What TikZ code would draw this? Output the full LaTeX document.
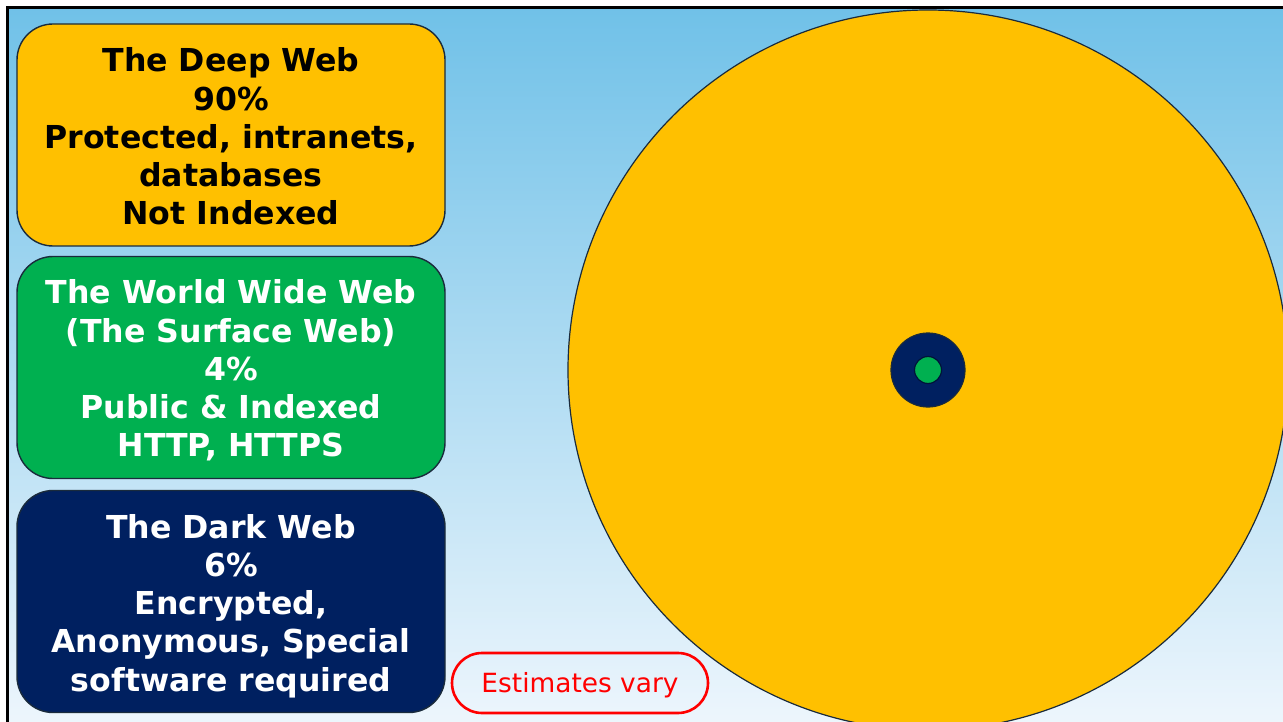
\documentclass[tikz,border=0pt]{standalone}
\usepackage{fontspec}
\setmainfont{DejaVu Sans}
\definecolor{deepy}{HTML}{FFC000}
\definecolor{wwwg}{HTML}{00B050}
\definecolor{darkn}{HTML}{002060}
\definecolor{skytop}{HTML}{70C1E8}
\definecolor{skybot}{HTML}{F0F7FD}
\definecolor{edge}{HTML}{1A2B3C}
\definecolor{estred}{HTML}{FF0000}
\tikzset{
  webbox/.style={rectangle, rounded corners=36pt, draw=edge, line width=1.4pt,
    minimum width=428pt, minimum height=222pt},
  webtext/.style={align=center, inner sep=0pt,
    font=\bfseries\fontsize{31.6}{38.2}\selectfont},
  ring/.style={circle, draw=edge, line width=1.2pt, inner sep=0pt},
  notebox/.style={rectangle, rounded corners=30pt, draw=estred, line width=2.6pt,
    minimum width=256pt, minimum height=60pt, text=estred,
    font=\fontsize{26.4}{30}\selectfont}
}
\begin{document}
\begin{tikzpicture}[x=1pt,y=-1pt]
\useasboundingbox (0,0) rectangle (1283,722);
\fill[white] (0,0) rectangle (1283,722);
\begin{scope}
  \clip (0,0) rectangle (1283,722);
  % sky background with frame
  \shade[top color=skytop, bottom color=skybot] (7,8) rectangle (1300,740);
  \draw[black, line width=3pt] (7,740) -- (7,8) -- (1300,8);
  % nested circles
  \node[ring, fill=deepy, minimum size=720pt] (deep) at (928,370) {};
  \node[ring, fill=darkn, minimum size=74pt] (dark) at (928,370) {};
  \node[ring, fill=wwwg, draw=darkn!60!black, minimum size=27pt] (www) at (928,370) {};
\end{scope}
% legend boxes
\node[webbox, fill=deepy] (deepbox) at (231,135) {};
\node[webtext, text=black] (deeptext) at ([yshift=-1.5pt]deepbox.center)
  {The Deep Web\\90\%\\Protected, intranets,\\databases\\Not Indexed};
\node[webbox, fill=wwwg] (wwwbox) at (231,367.5) {};
\node[webtext, text=white] (wwwtext) at ([yshift=-3pt]wwwbox.center)
  {The World Wide Web\\(The Surface Web)\\4\%\\Public \& Indexed\\HTTP, HTTPS};
\node[webbox, fill=darkn] (darkbox) at (231,601.5) {};
\node[webtext, text=white] (darktext) at ([yshift=-4.5pt]darkbox.center)
  {The Dark Web\\6\%\\Encrypted,\\Anonymous, Special\\software required};
% note
\node[notebox, fill=none] (note) at (580,683) {};
\node[text=estred, inner sep=0pt, font=\fontsize{26.4}{30}\selectfont]
  (notetext) at ([yshift=-2.5pt]note.center) {Estimates vary};
\end{tikzpicture}
\end{document}
